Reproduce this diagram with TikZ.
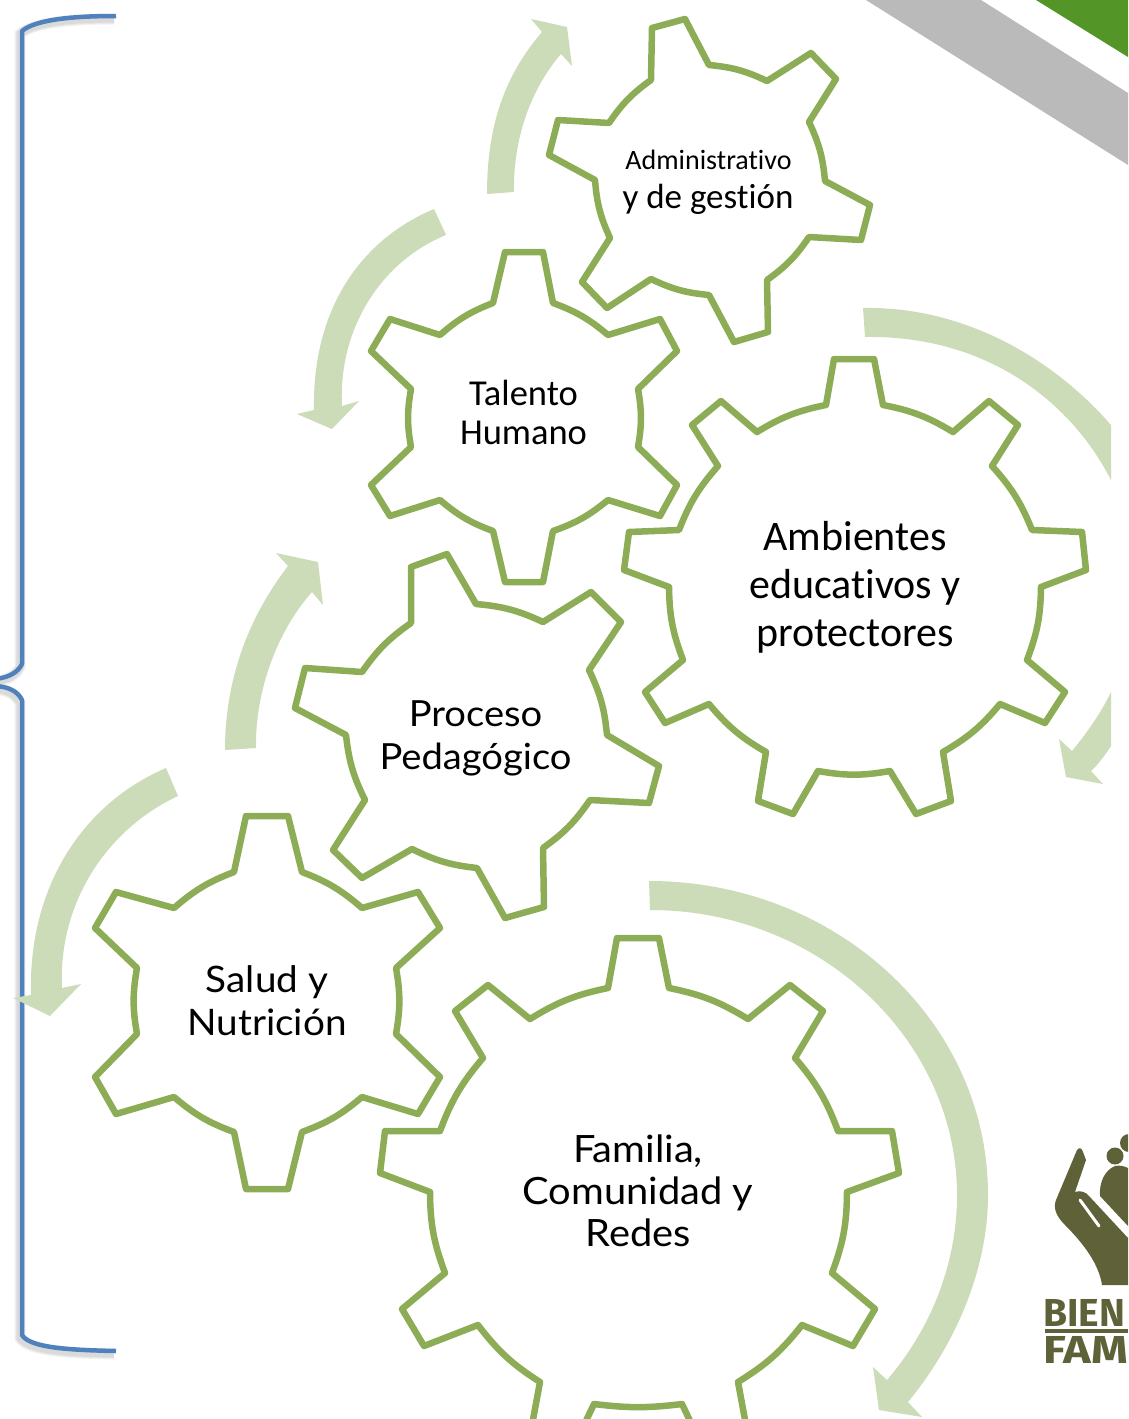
\documentclass[tikz,border=0pt]{standalone}
\usepackage{fontspec}
\setmainfont{Carlito}[Ligatures=CommonOff]
\newfontfamily\lat{Lato}[FakeStretch=1.06,Ligatures=CommonOff]
\newfontfamily\logof{Fira Sans}[UprightFont=* Bold]
\newfontfamily\logofw{Fira Sans}[UprightFont=* Bold,FakeStretch=1.2]
\definecolor{gearg}{HTML}{8CAD55}
\definecolor{arrowg}{HTML}{CCDBB8}
\definecolor{braceb}{HTML}{4F81BD}
\definecolor{bandgray}{HTML}{BBBABB}
\definecolor{bandgreen}{HTML}{539527}
\definecolor{logog}{HTML}{5F6238}
\tikzset{
  gearline/.style={draw=gearg,line width=6.5pt,line join=round,line cap=round},
  bl/.style={bend left=10},
  flow/.style={fill=arrowg,draw=none},
  brc/.style={draw=braceb,line width=4.5pt,line join=round},
  brcshadow/.style={draw=black,opacity=0.05,line width=#1,xshift=-2pt,yshift=-3pt},
  lbl/.style={align=center,text=black,inner sep=0pt},
}
\newcommand{\bracepart}{(116,16) .. controls (70,16) and (35,20) .. (22,31) -- (22,664) .. controls (18,672) and (10,677) .. (-4,679)
   (-4,686) .. controls (10,687) and (18,692) .. (22,700) -- (22,1335) .. controls (30,1348) and (70,1350) .. (116,1351)}
\begin{document}
\begin{tikzpicture}[x=1pt,y=-1pt]
\useasboundingbox (0,0) rectangle (1128,1419);
\clip (0,0) rectangle (1128,1419);
% corner bands
\fill[bandgray] (866,0) -- (981,0) -- (1128,93) -- (1128,165) -- cycle;
\fill[bandgreen] (1036,0) -- (1128,0) -- (1128,57) -- cycle;
% brace
\foreach \w in {11pt,9pt,7pt}{\path[brcshadow=\w] \bracepart;}
\path[brc] \bracepart;
% flow arrows
\fill[flow] (487,194) .. controls (487,125) and (505,75) .. (542,32) -- (531,19) -- (567,27) -- (572,66) -- (561,54) .. controls (530,90) and (513,140) .. (514,192) -- cycle;
\fill[flow] (434,209) .. controls (360,240) and (312,310) .. (314,410) -- (297,414) -- (332,429) -- (359,401) -- (342,406) .. controls (338,330) and (380,262) .. (446,235) -- cycle;
\fill[flow] (863,308) .. controls (960,306) and (1050,355) .. (1111,425) -- (1111,480) .. controls (1070,400) and (985,335) .. (865,337) -- cycle;
\fill[flow] (1111,692) .. controls (1100,715) and (1085,735) .. (1072,751) -- (1059,739) -- (1066,777) -- (1103,784) -- (1091,771) .. controls (1098,765) and (1105,755) .. (1111,746) -- cycle;
\fill[flow] (225,750) .. controls (225,680) and (248,618) .. (288,566) -- (276,553) -- (318,562) -- (323,605) -- (312,592) .. controls (278,630) and (255,690) .. (256,748) -- cycle;
\fill[flow] (166,768) .. controls (80,805) and (28,890) .. (31,995) -- (13,998) -- (50,1016) -- (81,984) -- (62,988) .. controls (58,905) and (105,830) .. (178,796) -- cycle;
\fill[flow] (649,881) .. controls (835,881) and (988,1020) .. (988,1195) .. controls (988,1270) and (955,1345) .. (908,1402) -- (922,1417) -- (879,1410) -- (873,1367) -- (887,1380) .. controls (930,1330) and (957,1265) .. (957,1195) .. controls (957,1040) and (820,910) .. (650,910) -- cycle;
% gears
\path[gearline] (652,28) -- (685,19) -- (709,65) to[bl] (767,81) -- (811,53) -- (836,79) -- (809,122) to[bl] (825,181) -- (870,205) -- (861,240) -- (809,237) to[bl] (767,280) -- (768,332) -- (734,342) -- (709,295) to[bl] (651,279) -- (607,308) -- (582,282) -- (610,238) to[bl] (595,180) -- (549,155) -- (558,120) -- (609,123) to[bl] (651,80) -- cycle;
\path[gearline] (505,252) -- (543,252) -- (553,303) to[bl] (608,335) -- (660,319) -- (677,351) -- (638,389) to[bl] (638,447) -- (677,485) -- (660,516) -- (608,500) to[bl] (553,531) -- (543,582) -- (505,582) -- (493,531) to[bl] (440,500) -- (390,516) -- (371,485) -- (411,447) to[bl] (411,389) -- (371,351) -- (390,319) -- (440,335) to[bl] (493,303) -- cycle;
\path[gearline] (834,359) -- (874,359) -- (883,405) to[bl] (953,432) -- (989,401) -- (1018,425) -- (992,466) to[bl] (1032,530) -- (1082,532) -- (1086,570) -- (1041,587) to[bl] (1027,660) -- (1065,692) -- (1045,723) -- (1000,704) to[bl] (943,752) -- (951,801) -- (916,814) -- (890,771) to[bl] (818,771) -- (793,814) -- (758,801) -- (766,752) to[bl] (709,704) -- (665,723) -- (645,692) -- (683,660) to[bl] (669,587) -- (624,570) -- (629,532) -- (679,530) to[bl] (718,466) -- (692,425) -- (721,401) -- (757,432) to[bl] (826,405) -- cycle;
\path[gearline] (411,567) -- (447,554) -- (476,604) to[bl] (543,622) -- (591,592) -- (621,622) -- (589,670) to[bl] (607,735) -- (659,766) -- (649,803) -- (590,800) to[bl] (543,848) -- (544,907) -- (505,918) -- (477,868) to[bl] (412,849) -- (362,878) -- (333,850) -- (365,800) to[bl] (346,735) -- (295,708) -- (305,668) -- (362,672) to[bl] (411,623) -- cycle;
\path[gearline] (246,816) -- (288,816) -- (302,872) to[bl] (362,908) -- (418,892) -- (440,928) -- (396,968) to[bl] (396,1034) -- (440,1077) -- (418,1114) -- (362,1097) to[bl] (302,1132) -- (288,1189) -- (246,1189) -- (234,1132) to[bl] (174,1097) -- (116,1114) -- (95,1077) -- (137,1034) to[bl] (137,968) -- (95,928) -- (116,892) -- (174,908) to[bl] (234,872) -- cycle;
\path[gearline] (608,988) -- (617,938) -- (659,938) -- (669,988) to[bl] (748,1019) -- (790,985) -- (823,1011) -- (795,1058) to[bl] (838,1131) -- (892,1131) -- (899,1173) -- (847,1192) to[bl] (832,1273) -- (875,1309) -- (853,1346) -- (802,1325) to[bl] (738,1382) -- (746,1425) (692,1425) -- (682,1404) to[bend left=7] (594,1404) -- (584,1425) (532,1425) -- (540,1382) to[bl] (478,1325) -- (424,1346) -- (402,1309) -- (445,1273) to[bl] (430,1192) -- (380,1173) -- (385,1131) -- (440,1131) to[bl] (483,1058) -- (455,1011) -- (488,985) -- (530,1019) to[bl] (608,988);
% labels
\node[lbl,anchor=base] (admin1) at (708.5,169) {\fontsize{28}{30}\selectfont Administrativo};
\node[lbl,anchor=base] (admin2) at (708,208) {\fontsize{35}{36}\selectfont y de gestión};
\node[lbl,font=\fontsize{36.5}{39.5}\selectfont] (talento) at (523.5,412.5) {Talento\\Humano};
\node[lbl,font=\fontsize{42}{48}\selectfont] (ambientes) at (855,587) {Ambientes\\educativos y\\protectores};
\node[lbl,font=\lat\fontsize{36}{43}\selectfont] (proceso) at (475.5,738) {Proceso\\Pedagógico};
\node[lbl,font=\lat\fontsize{36.5}{43}\selectfont] (salud) at (267,1001) {Salud y\\Nutrición};
\node[lbl,font=\lat\fontsize{37.6}{42}\selectfont] (familia) at (638,1191) {Familia,\\Comunidad y\\Redes};
% logo
\fill[logog] (1077,1150) .. controls (1079,1147) and (1082,1148) .. (1083,1152) -- (1086,1160) -- (1075,1192) .. controls (1080,1190) and (1086,1192) .. (1089,1196) -- (1128,1238) -- (1128,1285) -- (1102,1285) .. controls (1099,1265) and (1085,1245) .. (1065,1225) .. controls (1056,1216) and (1053,1208) .. (1056,1200) -- cycle;
\draw[white,line width=3pt,line cap=round] (1080,1200) -- (1099,1226);
\fill[logog] (1115,1156) circle (8.5);
\fill[logog] (1129,1143) circle (9);
\fill[logog] (1115,1166) .. controls (1105,1170) and (1099,1182) .. (1100,1196) -- (1128,1226) -- (1128,1168) .. controls (1124,1166) and (1120,1165) .. (1115,1166) -- cycle;
\fill[logog] (1045,1329) rectangle (1128,1332.5);
\node[anchor=base west,inner sep=0pt,text=logog,font=\logof\fontsize{39}{39}\selectfont] (bien) at (1043,1326) {BIEN};
\node[anchor=base west,inner sep=0pt,text=logog,font=\logofw\fontsize{39}{39}\selectfont] (fam) at (1043,1363) {FAM};
\end{tikzpicture}
\end{document}
